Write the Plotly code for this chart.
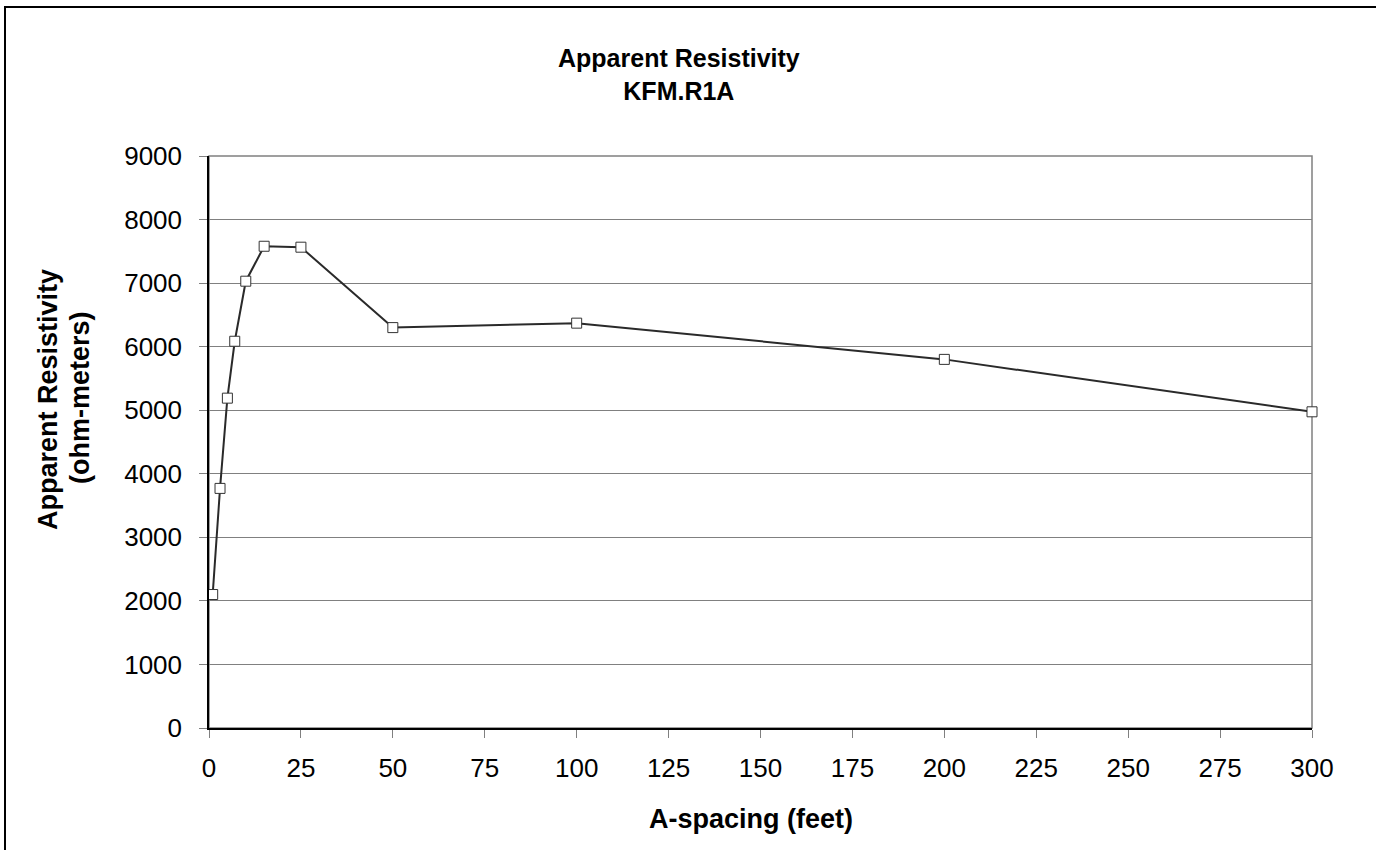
import plotly.graph_objects as go

a_spacing = [1, 3, 5, 7, 10, 15, 25, 50, 100, 200, 300]
resistivity = [2100, 3770, 5190, 6085, 7030, 7580, 7565, 6300, 6370, 5800, 4975]
x_ticks = list(range(0, 301, 25))
y_ticks = list(range(0, 9001, 1000))

FONT = "Liberation Sans, Arial, sans-serif"
L, R, T, B = 209, 64, 156, 122
W, H = 1376, 850
pw, ph = W - L - R, H - T - B

def px(x):
    return (x - L) / pw

def py(y):
    return (H - B - y) / ph

fig = go.Figure()
fig.add_trace(go.Scatter(
    x=a_spacing, y=resistivity, mode="lines+markers",
    line=dict(color="#2a2a2a", width=2),
    marker=dict(symbol="square", size=10, color="white",
                line=dict(color="#333333", width=1)),
    cliponaxis=False, showlegend=False,
))

TF = dict(family=FONT, size=27, color="black")

fig.update_layout(
    width=W, height=H,
    margin=dict(l=L, r=R, t=T, b=B),
    paper_bgcolor="white", plot_bgcolor="white",
    font=dict(family=FONT, color="black", size=26),
    xaxis=dict(range=[0, 300], tickvals=x_ticks, ticktext=[str(v) for v in x_ticks],
               showgrid=False, zeroline=False, showline=True, linecolor="black", linewidth=1.5,
               ticks="outside", ticklen=8, tickcolor="#808080", ticklabelstandoff=8,
               tickfont=dict(family=FONT, size=26)),
    yaxis=dict(range=[0, 9000], tickvals=y_ticks, ticktext=[str(v) for v in y_ticks],
               showgrid=True, gridcolor="#808080", gridwidth=1, zeroline=False,
               showline=True, linecolor="black", linewidth=1.5,
               ticks="outside", ticklen=8, tickcolor="#808080", ticklabelstandoff=12,
               tickfont=dict(family=FONT, size=26)),
    shapes=[
        dict(type="rect", xref="paper", yref="paper", x0=0, x1=1, y0=0, y1=1,
             line=dict(color="#808080", width=1.5), layer="below"),
        dict(type="rect", xref="paper", yref="paper",
             x0=px(5), x1=px(1400), y0=py(880), y1=py(7),
             line=dict(color="black", width=2), layer="above"),
    ],
    annotations=[
        dict(text="<b>Apparent Resistivity</b><br><b>KFM.R1A</b>", xref="paper", yref="paper",
             x=px(679), y=py(75), xanchor="center", yanchor="middle", showarrow=False,
             font=dict(family=FONT, size=25, color="black")),
        dict(text="<b>Apparent Resistivity</b>", xref="paper", yref="paper",
             x=px(48), y=py(400), xanchor="center", yanchor="middle", showarrow=False,
             textangle=-90, font=TF),
        dict(text="<b>(ohm-meters)</b>", xref="paper", yref="paper",
             x=px(80), y=py(398), xanchor="center", yanchor="middle", showarrow=False,
             textangle=-90, font=TF),
        dict(text="<b>A-spacing (feet)</b>", xref="paper", yref="paper",
             x=px(751), y=py(819), xanchor="center", yanchor="middle", showarrow=False, font=TF),
    ],
)

fig.write_html("out.html")
